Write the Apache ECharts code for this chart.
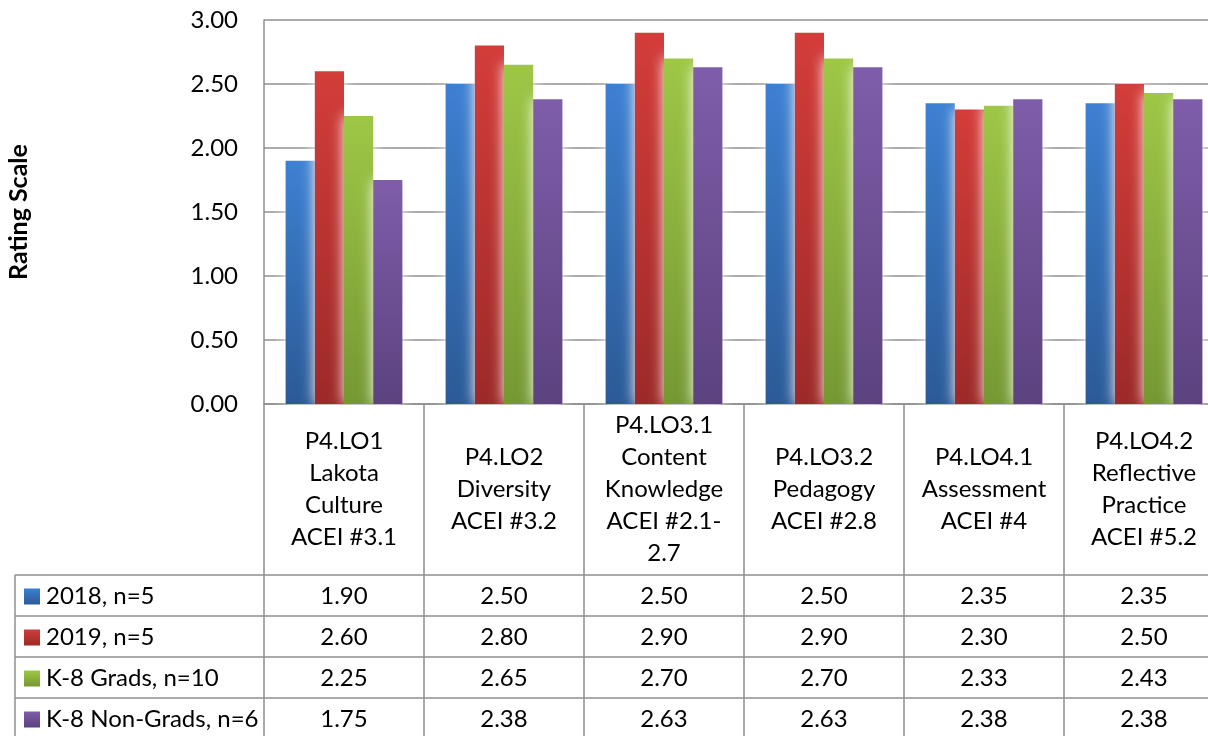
<!DOCTYPE html>
<html>
<head>
<meta charset="utf-8">
<script src="https://cdn.jsdelivr.net/npm/echarts@6/dist/echarts.min.js"></script>
<style>
  html, body { margin: 0; padding: 0; background: #fff; }
  #chart { width: 1208px; height: 736px; }
</style>
</head>
<body>
<div id="chart"></div>
<script>
// Outcome categories (one column each in the data table)
const categories = [
  'P4.LO1\nLakota\nCulture\nACEI #3.1',
  'P4.LO2\nDiversity\nACEI #3.2',
  'P4.LO3.1\nContent\nKnowledge\nACEI #2.1-\n2.7',
  'P4.LO3.2\nPedagogy\nACEI #2.8',
  'P4.LO4.1\nAssessment\nACEI #4',
  'P4.LO4.2\nReflective\nPractice\nACEI #5.2'
];

// Series names and mean ratings
const seriesNames = ['2018, n=5', '2019, n=5', 'K-8 Grads, n=10', 'K-8 Non-Grads, n=6'];
const ratings2018 = [1.90, 2.50, 2.50, 2.50, 2.35, 2.35];
const ratings2019 = [2.60, 2.80, 2.90, 2.90, 2.30, 2.50];
const ratingsGrads = [2.25, 2.65, 2.70, 2.70, 2.33, 2.43];
const ratingsNonGrads = [1.75, 2.38, 2.63, 2.63, 2.38, 2.38];

// Value axis ticks
const yMin = 0, yMax = 3, yStep = 0.5;

const seriesValues = [ratings2018, ratings2019, ratingsGrads, ratingsNonGrads];
const gradients = [
  ['#3d80d2', '#2b5a96'],
  ['#d33d3a', '#9c2a28'],
  ['#9ec746', '#759833'],
  ['#7f5daa', '#5c427f']
];

const FONT = 'Lato';
const FS = 24;
const LINE = '#8f8f8f';

// Layout of plot and data table
const gridLeft = 264, gridTop = 20, gridW = 960, gridH = 384;
const axisY = gridTop + gridH;          // 404
const headerBottom = 575;
const rowH = 41;
const tableLeft = 15, tableBottom = 736;

const chart = echarts.init(document.getElementById('chart'));

const xAxes = [{
  type: 'category',
  data: categories,
  position: 'bottom',
  axisLine: { show: true, lineStyle: { color: LINE, width: 1.5 } },
  axisTick: { show: true, length: tableBottom - axisY, interval: 0, lineStyle: { color: LINE, width: 1.5 } },
  axisLabel: {
    interval: 0, margin: (headerBottom - axisY) / 2, verticalAlign: 'middle',
    fontFamily: FONT, fontSize: FS, lineHeight: 32, color: '#000', align: 'center'
  },
  splitLine: { show: false }
}];

// One extra category axis per series, used as a row of the data table
seriesValues.forEach((vals, i) => {
  xAxes.push({
    type: 'category',
    data: categories,
    position: 'bottom',
    offset: headerBottom - axisY + rowH * i + rowH / 2 + 1,
    axisLine: { show: false },
    axisTick: { show: false },
    splitLine: { show: false },
    axisLabel: {
      interval: 0, margin: 0, verticalAlign: 'middle',
      fontFamily: FONT, fontSize: FS, color: '#000',
      formatter: (v, idx) => vals[idx].toFixed(2)
    }
  });
});

// One legend per table row, so each key sits in its own row
const legends = seriesNames.map((name, i) => ({
  orient: 'horizontal',
  left: 24,
  top: headerBottom + rowH * i + rowH / 2 - 11,
  padding: 0,
  itemWidth: 16, itemHeight: 16, itemGap: 0,
  icon: 'rect',
  selectedMode: false,
  textStyle: { fontFamily: FONT, fontSize: FS, color: '#000', padding: [0, 0, 0, 1] },
  data: [name]
}));

// Horizontal table rules
const graphics = [];
for (let i = 0; i < seriesValues.length; i++) {
  const y = headerBottom + rowH * i;
  graphics.push({
    type: 'line', silent: true,
    shape: { x1: tableLeft, y1: y, x2: 1208, y2: y },
    style: { stroke: LINE, lineWidth: 1.5 }
  });
}
graphics.push({
  type: 'line', silent: true,
  shape: { x1: tableLeft, y1: headerBottom, x2: tableLeft, y2: tableBottom },
  style: { stroke: LINE, lineWidth: 1.5 }
});

chart.setOption({
  animation: false,
  backgroundColor: '#fff',
  textStyle: { fontFamily: FONT },
  grid: {
    left: gridLeft, top: gridTop, width: gridW, height: gridH,
    containLabel: false, outerBoundsMode: 'none'
  },
  legend: legends,
  xAxis: xAxes,
  yAxis: {
    type: 'value',
    min: yMin, max: yMax, interval: yStep,
    name: 'Rating Scale',
    nameLocation: 'middle',
    nameGap: gridLeft - 31,
    nameRotate: 90,
    nameTextStyle: { fontFamily: FONT, fontSize: 25, fontWeight: 'bold', color: '#000' },
    axisLine: { show: true, lineStyle: { color: LINE, width: 1.5 } },
    axisTick: { show: false },
    axisLabel: {
      margin: 26, fontFamily: FONT, fontSize: FS, color: '#000',
      formatter: v => v.toFixed(2)
    },
    splitLine: { show: true, lineStyle: { color: LINE, width: 1.5 } }
  },
  graphic: graphics,
  series: seriesValues.map((vals, i) => ({
    name: seriesNames[i],
    type: 'bar',
    xAxisIndex: 0,
    data: vals,
    barGap: '0%',
    barCategoryGap: '27%',
    itemStyle: {
      color: new echarts.graphic.LinearGradient(0, 0, 0, 1, [
        { offset: 0, color: gradients[i][0] },
        { offset: 1, color: gradients[i][1] }
      ]),
      shadowColor: 'rgba(255,255,255,1)',
      shadowBlur: 14
    }
  }))
});
</script>
</body>
</html>
